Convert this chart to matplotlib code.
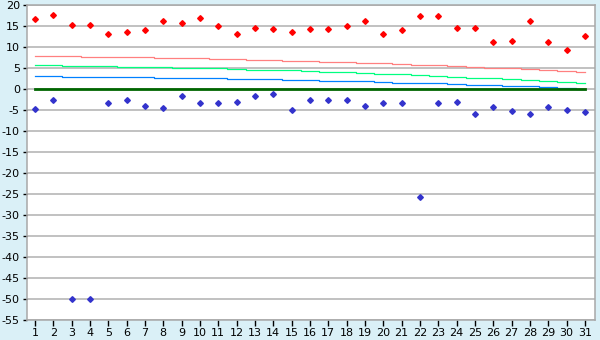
import numpy as np
import matplotlib
matplotlib.use('Agg')
import matplotlib.pyplot as plt

days = list(range(1, 32))

# daily highs and lows (markers)
highs = [16.6, 17.6, 15.2, 15.2, 13.1, 13.55, 14.0, 16.2, 15.7, 16.85,
         15.0, 13.1, 14.5, 14.26, 13.55, 14.26, 14.26, 15.0, 16.2, 13.1,
         14.0, 17.35, 17.35, 14.5, 14.5, 11.2, 11.4, 16.2, 11.2, 9.3, 12.6]
lows = [-4.7, -2.7, -50.0, -50.0, -3.3, -2.7, -4.0, -4.45, -1.6, -3.3,
        -3.3, -3.0, -1.6, -1.15, -4.9, -2.7, -2.55, -2.55, -4.0, -3.3,
        -3.3, -25.8, -3.3, -3.0, -5.9, -4.2, -5.2, -5.9, -4.2, -4.9, -5.4]

# reference lines
red_line = [7.8, 7.8, 7.8, 7.55, 7.55, 7.55, 7.55, 7.3, 7.3, 7.3,
            7.05, 7.05, 6.8, 6.8, 6.6, 6.6, 6.35, 6.35, 6.1, 6.1,
            5.9, 5.65, 5.65, 5.4, 5.2, 4.95, 4.95, 4.7, 4.45, 4.2, 4.0]
green_line = [5.7, 5.7, 5.5, 5.5, 5.5, 5.3, 5.3, 5.3, 5.0, 5.0,
              5.0, 4.8, 4.55, 4.55, 4.55, 4.3, 4.1, 4.1, 3.85, 3.6,
              3.6, 3.35, 3.1, 2.9, 2.65, 2.65, 2.4, 2.2, 1.95, 1.7, 1.5]
blue_line = [3.1, 3.1, 2.9, 2.9, 2.9, 2.9, 2.9, 2.65, 2.65, 2.65,
             2.65, 2.4, 2.4, 2.4, 2.2, 2.2, 1.95, 1.95, 1.95, 1.7,
             1.45, 1.45, 1.45, 1.25, 1.0, 1.0, 0.75, 0.75, 0.5, 0.3, 0.05]
zero_line = [0.0] * 31

bg = '#daf0f7'
fig = plt.figure(figsize=(6, 3.4), dpi=100, facecolor=bg)
ax = fig.add_axes([0.0445, 0.0588, 0.9472, 0.9265])
ax.set_facecolor('white')

ax.set_ylim(-55, 20)
ax.set_xlim(0.55, 31.55)
ax.set_yticks(range(-55, 21, 5))
ax.set_xticks(days)
ax.yaxis.grid(True, color='#b0b0b0', lw=1.1)
ax.set_axisbelow(True)

ax.plot(days, red_line, color='#ff8080', lw=0.9, drawstyle='steps-mid')
ax.plot(days, green_line, color='#00ff80', lw=0.9, drawstyle='steps-mid')
ax.plot(days, blue_line, color='#0080ff', lw=0.9, drawstyle='steps-mid')
ax.plot(days, zero_line, color='#006600', lw=2.0)

ax.plot(days, highs, ls='none', marker='D', ms=2.9, color='#ff0000')
ax.plot(days, lows, ls='none', marker='D', ms=2.9, color='#3333cc')

for s in ax.spines.values():
    s.set_color('#a8a8a8')
    s.set_linewidth(1.1)

ax.tick_params(axis='both', labelsize=8, colors='black', length=3, width=1, pad=2)
ax.tick_params(axis='x', length=4)
ax.set_yticklabels([str(t) for t in range(-55, 21, 5)])

fig.savefig('out.png', dpi=100, facecolor=bg)
